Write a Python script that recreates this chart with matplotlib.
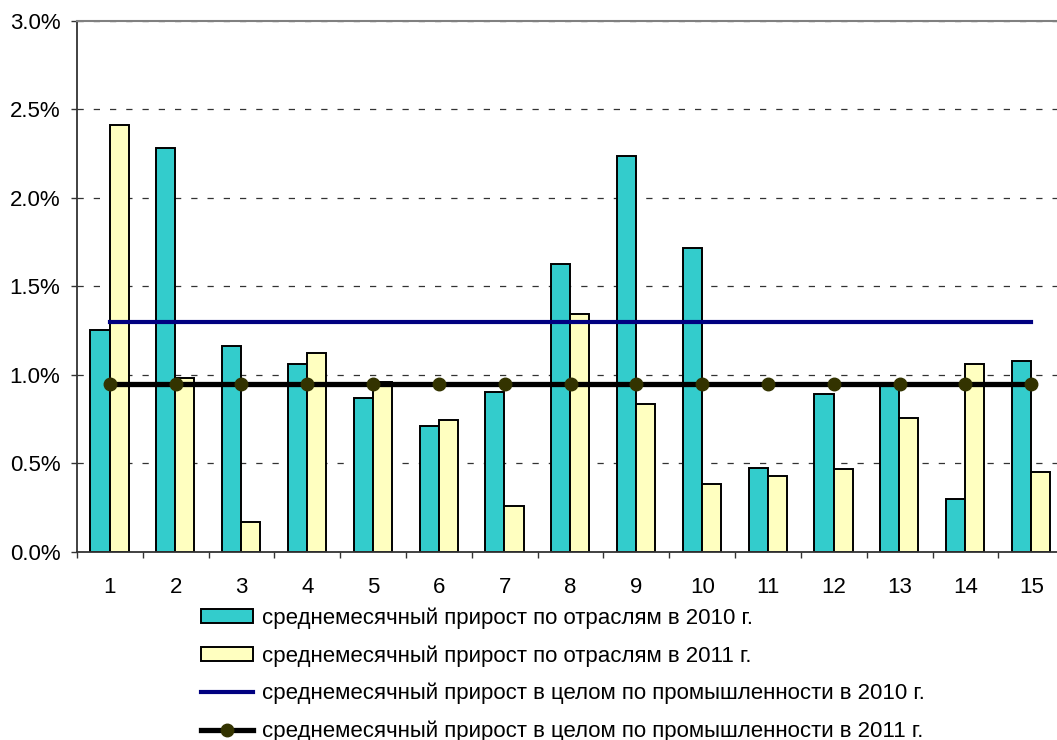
import numpy as np
import matplotlib.pyplot as plt
from matplotlib.patches import Patch
from matplotlib.lines import Line2D
from matplotlib.ticker import FuncFormatter

plt.rcParams['font.family'] = ['Liberation Sans', 'DejaVu Sans']

# Sector numbers and average monthly growth, %
sectors = list(range(1, 16))
growth_2010 = [1.25, 2.28, 1.16, 1.06, 0.87, 0.71, 0.90, 1.625, 2.235, 1.715, 0.47, 0.89, 0.94, 0.295, 1.08]
growth_2011 = [2.41, 0.98, 0.17, 1.12, 0.96, 0.745, 0.26, 1.345, 0.835, 0.385, 0.43, 0.465, 0.755, 1.06, 0.45]
industry_2010 = 1.30
industry_2011 = 0.95

labels = [
    'среднемесячный прирост по отраслям в 2010 г.',
    'среднемесячный прирост по отраслям в 2011 г.',
    'среднемесячный прирост в целом по промышленности в 2010 г.',
    'среднемесячный прирост в целом по промышленности в 2011 г.',
]

teal = '#33CCCC'
pale = '#FFFFC0'
navy = '#000080'
dot = '#333300'

fig = plt.figure(figsize=(10.57, 7.40), dpi=100)
ax = fig.add_axes([0.0728, 0.2545, 0.934, 0.7175])

x = np.array(sectors)
w = 0.29
ax.bar(x - w / 2 - 0.005, growth_2010, width=w, color=teal, edgecolor='black', linewidth=1.4, zorder=2)
ax.bar(x + w / 2 - 0.005, growth_2011, width=w, color=pale, edgecolor='black', linewidth=1.4, zorder=2)

ax.plot(x, [industry_2010] * len(x), color=navy, linewidth=3.0, zorder=3)
ax.plot(x, [industry_2011] * len(x), color='black', linewidth=3.8, zorder=4,
        marker='o', markersize=9, markerfacecolor=dot, markeredgecolor=dot)

ax.set_xlim(0.5, 15.5)
ax.set_ylim(0, 3.0)
ax.set_yticks(np.arange(0, 3.01, 0.5))
ax.yaxis.set_major_formatter(FuncFormatter(lambda v, p: f'{v:.1f}%'))
ax.tick_params(axis='y', direction='out', length=4, width=1, color='#333333', labelsize=16, pad=8)

ax.set_xticks(np.arange(0.5, 15.6, 1.0))
ax.set_xticklabels([])
ax.tick_params(axis='x', which='major', direction='out', length=4, width=1, color='#333333')
ax.set_xticks(x, minor=True)
ax.set_xticklabels([str(s) for s in sectors], minor=True)
ax.tick_params(axis='x', which='minor', length=0, labelsize=16, pad=18)

ax.grid(axis='y', color='#333333', linestyle=(0, (5, 8)), linewidth=0.9, zorder=0)
ax.set_axisbelow(True)

ax.spines['left'].set_color('#333333')
ax.spines['bottom'].set_color('#333333')
ax.spines['left'].set_linewidth(1.3)
ax.spines['bottom'].set_linewidth(1.3)
ax.spines['top'].set_color('#808080')
ax.spines['top'].set_linewidth(1.5)
ax.spines['right'].set_visible(False)

handles = [
    Patch(facecolor=teal, edgecolor='black', linewidth=1.4),
    Patch(facecolor=pale, edgecolor='black', linewidth=1.4),
    Line2D([], [], color=navy, linewidth=3.0),
    Line2D([], [], color='black', linewidth=3.8, marker='o', markersize=9,
           markerfacecolor=dot, markeredgecolor=dot),
]
fig.legend(handles, labels, loc='upper left', bbox_to_anchor=(0.190, 0.179),
           frameon=False, fontsize=16, handlelength=2.35, handleheight=0.6,
           handletextpad=0.4, labelspacing=0.73, borderpad=0, borderaxespad=0)

fig.savefig('out.png', dpi=100)
